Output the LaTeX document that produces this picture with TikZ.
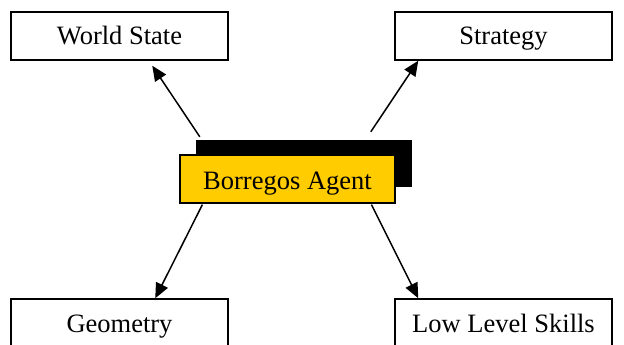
\documentclass[tikz,border=0pt]{standalone}
\usepackage{fontspec}
\setmainfont{Liberation Serif}
\usetikzlibrary{arrows.meta,calc}
\definecolor{agentyellow}{HTML}{FFCC00}
\begin{document}
\begin{tikzpicture}[x=1pt,y=-1pt,
  box/.style={draw=black,line width=1.5pt,fill=white,minimum width=217pt,minimum height=48pt,inner sep=0pt,text height=24pt,text depth=6pt,font=\fontsize{26.5}{30}\selectfont},
  agentbox/.style={draw=black,line width=1.2pt,fill=agentyellow,minimum width=215pt,minimum height=48pt,inner sep=0pt,text height=26pt,text depth=6pt,font=\fontsize{26.5}{30}\selectfont},
  shadowbox/.style={fill=black,minimum width=216pt,minimum height=47pt,inner sep=0pt},
  conn/.style={line width=1.5pt,-{Triangle[length=15pt,width=13pt]}}]
\clip (0,0) rectangle (624,345);
\useasboundingbox (0,0) rectangle (624,345);
\fill[white] (0,0) rectangle (624,345);
\node[box] (ws) at (119.5,36) {World State};
\node[box] (st) at (503.5,36) {Strategy};
\node[box] (geo) at (119.5,323) {Geometry};
\node[box] (lls) at (503.5,323) {Low Level Skills};
\node[shadowbox] (shadow) at (304,163.5) {};
\node[agentbox] (agent) at (287.5,179) {Borregos Agent};
\coordinate (s1) at ($(shadow.north west)+(4,-3)$);
\coordinate (s2) at ($(shadow.north west)+(175,-8)$);
\coordinate (s3) at ($(agent.south west)+(23,1)$);
\coordinate (s4) at ($(agent.south west)+(192,1)$);
\coordinate (t1) at ($(ws.south west)+(142,5)$);
\coordinate (t2) at ($(st.south west)+(24,0)$);
\coordinate (t3) at ($(geo.north west)+(145,0)$);
\coordinate (t4) at ($(lls.north west)+(24,0)$);
\draw[conn] (s1) -- (t1);
\draw[conn] (s2) -- (t2);
\draw[conn] (s3) -- (t3);
\draw[conn] (s4) -- (t4);
\end{tikzpicture}
\end{document}
